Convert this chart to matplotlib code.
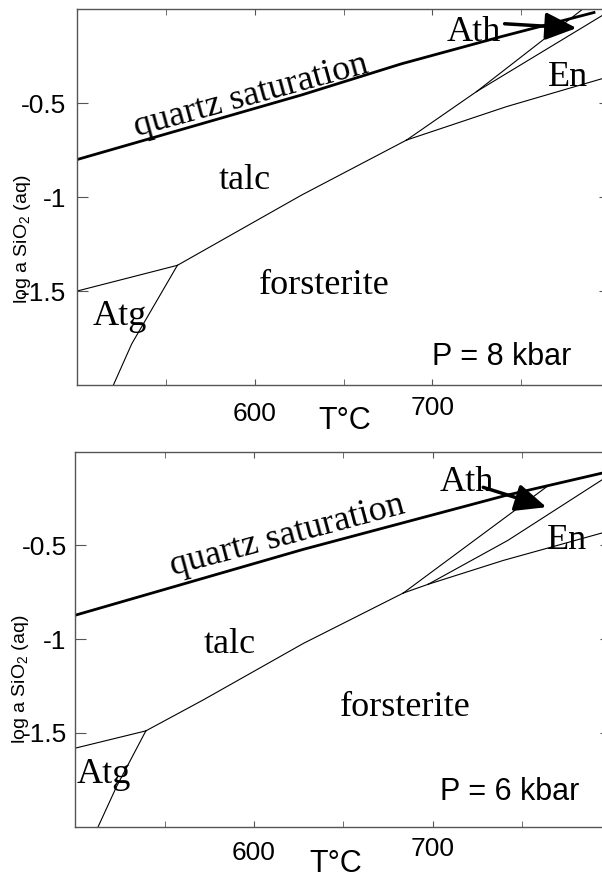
import numpy as np
import matplotlib
matplotlib.use("Agg")
import matplotlib.pyplot as plt

plt.rcParams['font.family'] = ['Liberation Sans', 'DejaVu Sans']
plt.rcParams['mathtext.fontset'] = 'custom'
plt.rcParams['mathtext.rm'] = 'Liberation Sans'
plt.rcParams['mathtext.it'] = 'Liberation Sans:italic'

# ---- P = 8 kbar (upper panel) ----
t8_qtz = [500, 626.4, 682.7, 739, 791]
a8_qtz = [-0.80, -0.456, -0.29, -0.145, -0.017]
t8_atg_tlc = [500, 556.5]
a8_atg_tlc = [-1.50, -1.363]
t8_atg_fo = [556.5, 530.8, 520.5]
a8_atg_fo = [-1.363, -1.781, -2.0]
t8_tlc_fo = [556.5, 626.4, 685.5]
a8_tlc_fo = [-1.363, -0.989, -0.696]
t8_tlc_en = [685.5, 724.9]
a8_tlc_en = [-0.696, -0.438]
t8_tlc_ath = [724.9, 784.5]
a8_tlc_ath = [-0.438, 0.0]
t8_ath_en = [724.9, 800]
a8_ath_en = [-0.438, -0.008]
t8_fo_en = [685.5, 741.8, 800]
a8_fo_en = [-0.696, -0.518, -0.357]

# ---- P = 6 kbar (lower panel) ----
t6_qtz = [500, 627.6, 740.7, 800]
a6_qtz = [-0.872, -0.521, -0.234, -0.103]
t6_atg_tlc = [500, 539.5]
a6_atg_tlc = [-1.581, -1.489]
t6_atg_fo = [539.5, 523.1, 512.8]
a6_atg_fo = [-1.489, -1.786, -2.0]
t6_tlc_fo = [539.5, 571.6, 627.6, 683.6]
a6_tlc_fo = [-1.489, -1.324, -1.023, -0.754]
t6_fo_ath = [683.6, 697.6]
a6_fo_ath = [-0.754, -0.707]
t6_tlc_ath = [683.6, 764.8]
a6_tlc_ath = [-0.754, -0.181]
t6_ath_en = [697.6, 742.2, 800]
a6_ath_en = [-0.707, -0.473, -0.119]
t6_fo_en = [697.6, 739.6, 800]
a6_fo_en = [-0.707, -0.58, -0.42]

# field labels: text, T, log a (baseline, left)
lab8 = ["talc", "forsterite", "Atg", "Ath", "En"]
lab8_t = [579.6, 602.3, 508.7, 708, 765.3]
lab8_a = [-0.954, -1.514, -1.683, -0.171, -0.408]
lab6 = ["talc", "forsterite", "Atg", "Ath", "En"]
lab6_t = [571.6, 648.2, 500.8, 704.1, 763.8]
lab6_a = [-1.076, -1.41, -1.768, -0.207, -0.518]

# quartz saturation label (baseline centre) and arrow tail/tip
qlab8 = (599.3, -0.505, 15.4)
qlab6 = (620.0, -0.49, 15.0)
arrow8 = [(740.7, -0.077), (781.2, -0.10)]
arrow6 = [(728.4, -0.19), (763.8, -0.296)]

xmajor = [600, 700]
xminor = [550, 650, 750]
xlabels = ["600", "700"]
yticks = [-1.5, -1.0, -0.5]
ylabels = ["-1.5", "-1", "-0.5"]

fig = plt.figure(figsize=(6.02, 8.8), dpi=100)
ax8 = fig.add_axes([77 / 602, 1 - 385 / 880, 533 / 602, 375.7 / 880])
ax6 = fig.add_axes([75.3 / 602, 1 - 826.7 / 880, 535.8 / 602, 375 / 880])

serif = 'Liberation Serif'
thin = dict(color='black', lw=0.8)


def setup(ax, pads, ylab_y, xlab_xy, ypad):
    ax.set_xlim(500, 800)
    ax.set_ylim(-2, 0)
    ax.set_xticks(xmajor)
    ax.set_xticklabels(xlabels)
    ax.set_xticks(xminor, minor=True)
    ax.set_yticks(yticks)
    ax.set_yticklabels(ylabels)
    ax.tick_params(axis='both', which='both', direction='in', top=True, right=True,
                   color='#555555', labelsize=19)
    ax.tick_params(axis='x', which='both', length=4.5)
    ax.tick_params(axis='y', length=8, pad=ypad)
    for tk, p in zip(ax.xaxis.get_major_ticks(), pads):
        tk.set_pad(p)
    for s in ax.spines.values():
        s.set_color('#555555')
        s.set_linewidth(1)
    ax.set_ylabel("log a SiO$_2$ (aq)", fontsize=14, va='center')
    ax.yaxis.set_label_coords(-0.103, ylab_y)
    ax.set_xlabel("T°C", fontsize=22, va='center')
    ax.xaxis.set_label_coords(*xlab_xy)


# upper panel
ax8.plot(t8_qtz, a8_qtz, color='black', lw=2)
for t, a in [(t8_atg_tlc, a8_atg_tlc), (t8_atg_fo, a8_atg_fo), (t8_tlc_fo, a8_tlc_fo),
             (t8_tlc_en, a8_tlc_en), (t8_tlc_ath, a8_tlc_ath), (t8_ath_en, a8_ath_en),
             (t8_fo_en, a8_fo_en)]:
    ax8.plot(t, a, **thin)
for s, t, a in zip(lab8, lab8_t, lab8_a):
    ax8.text(t, a, s, family=serif, fontsize=26, ha='left', va='baseline')
ax8.text(qlab8[0], qlab8[1], "quartz saturation", family=serif, fontsize=26,
         rotation=qlab8[2], rotation_mode='anchor', ha='center', va='baseline')
ax8.annotate('', xy=arrow8[1], xytext=arrow8[0],
             arrowprops=dict(arrowstyle='-|>,head_length=0.95,head_width=0.42',
                             mutation_scale=20, lw=2.5, color='black',
                             shrinkA=0, shrinkB=0))
ax8.text(699.6, -1.896, "P = 8 kbar", fontsize=22, ha='left', va='baseline')
setup(ax8, [12.5, 8], 0.389, (0.503, -0.096), 7.5)

# lower panel
ax6.plot(t6_qtz, a6_qtz, color='black', lw=2)
for t, a in [(t6_atg_tlc, a6_atg_tlc), (t6_atg_fo, a6_atg_fo), (t6_tlc_fo, a6_tlc_fo),
             (t6_fo_ath, a6_fo_ath), (t6_tlc_ath, a6_tlc_ath), (t6_ath_en, a6_ath_en),
             (t6_fo_en, a6_fo_en)]:
    ax6.plot(t, a, **thin)
for s, t, a in zip(lab6, lab6_t, lab6_a):
    ax6.text(t, a, s, family=serif, fontsize=26, ha='left', va='baseline')
ax6.text(qlab6[0], qlab6[1], "quartz saturation", family=serif, fontsize=26,
         rotation=qlab6[2], rotation_mode='anchor', ha='center', va='baseline')
ax6.annotate('', xy=arrow6[1], xytext=arrow6[0],
             arrowprops=dict(arrowstyle='-|>,head_length=0.95,head_width=0.42',
                             mutation_scale=20, lw=2.5, color='black',
                             shrinkA=0, shrinkB=0))
ax6.text(704.1, -1.856, "P = 6 kbar", fontsize=22, ha='left', va='baseline')
setup(ax6, [10.5, 7.5], 0.394, (0.487, -0.1), 6.2)

fig.savefig("out.png", dpi=100)
